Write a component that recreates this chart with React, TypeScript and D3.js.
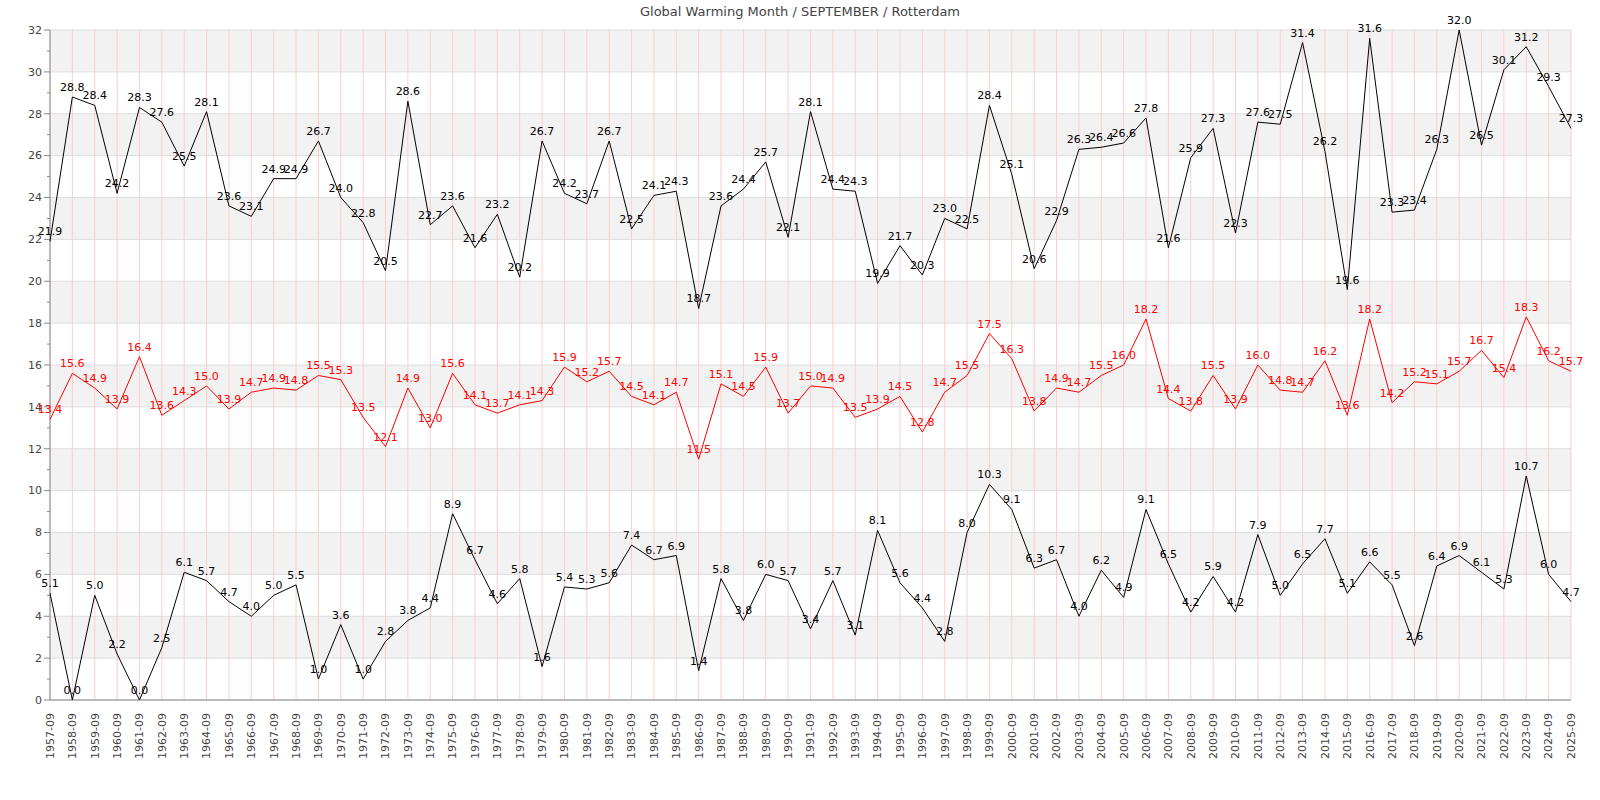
import React from "react";
import * as d3 from "d3";

const years: string[] = d3.range(1957, 2026).map((y) => `${y}-09`);

const maxTemps: number[] = [
  21.9, 28.8, 28.4, 24.2, 28.3, 27.6, 25.5, 28.1, 23.6, 23.1, 24.9, 24.9, 26.7, 24.0, 22.8, 20.5, 28.6, 22.7,
  23.6, 21.6, 23.2, 20.2, 26.7, 24.2, 23.7, 26.7, 22.5, 24.1, 24.3, 18.7, 23.6, 24.4, 25.7, 22.1, 28.1, 24.4,
  24.3, 19.9, 21.7, 20.3, 23.0, 22.5, 28.4, 25.1, 20.6, 22.9, 26.3, 26.4, 26.6, 27.8, 21.6, 25.9, 27.3, 22.3,
  27.6, 27.5, 31.4, 26.2, 19.6, 31.6, 23.3, 23.4, 26.3, 32.0, 26.5, 30.1, 31.2, 29.3, 27.3,
];

const meanTemps: number[] = [
  13.4, 15.6, 14.9, 13.9, 16.4, 13.6, 14.3, 15.0, 13.9, 14.7, 14.9, 14.8, 15.5, 15.3, 13.5, 12.1, 14.9, 13.0,
  15.6, 14.1, 13.7, 14.1, 14.3, 15.9, 15.2, 15.7, 14.5, 14.1, 14.7, 11.5, 15.1, 14.5, 15.9, 13.7, 15.0, 14.9,
  13.5, 13.9, 14.5, 12.8, 14.7, 15.5, 17.5, 16.3, 13.8, 14.9, 14.7, 15.5, 16.0, 18.2, 14.4, 13.8, 15.5, 13.9,
  16.0, 14.8, 14.7, 16.2, 13.6, 18.2, 14.2, 15.2, 15.1, 15.7, 16.7, 15.4, 18.3, 16.2, 15.7,
];

const minTemps: number[] = [
  5.1, 0.0, 5.0, 2.2, 0.0, 2.5, 6.1, 5.7, 4.7, 4.0, 5.0, 5.5, 1.0, 3.6, 1.0, 2.8, 3.8, 4.4,
  8.9, 6.7, 4.6, 5.8, 1.6, 5.4, 5.3, 5.6, 7.4, 6.7, 6.9, 1.4, 5.8, 3.8, 6.0, 5.7, 3.4, 5.7,
  3.1, 8.1, 5.6, 4.4, 2.8, 8.0, 10.3, 9.1, 6.3, 6.7, 4.0, 6.2, 4.9, 9.1, 6.5, 4.2, 5.9, 4.2,
  7.9, 5.0, 6.5, 7.7, 5.1, 6.6, 5.5, 2.6, 6.4, 6.9, 6.1, 5.3, 10.7, 6.0, 4.7,
];

const yTicks: number[] = d3.range(0, 33, 2);
const yMinorTicks: number[] = d3.range(1, 32, 2);

const title = "Global Warming Month / SEPTEMBER / Rotterdam";

const W = 1600;
const H = 800;
const left = 50;
const right = 1571;
const top = 30;
const bottom = 700;

export default function App() {
  const x = d3.scalePoint<string>().domain(years).range([left, right]);
  const y = d3.scaleLinear().domain([0, 32]).range([bottom, top]);
  const line = d3
    .line<number>()
    .x((_, i) => x(years[i]) as number)
    .y((d) => y(d));

  const series = [
    { data: maxTemps, color: "#000000" },
    { data: meanTemps, color: "#ff0000" },
    { data: minTemps, color: "#000000" },
  ];

  const font = "DejaVu Sans, sans-serif";

  return (
    <svg
      width={W}
      height={H}
      style={{ position: "absolute", left: 0, top: 0, background: "#fff" }}
      fontFamily={font}
    >
      <rect x={0} y={0} width={W} height={H} fill="#fff" />
      {/* alternating bands */}
      {yTicks.slice(0, -1).map((t) =>
        (t / 2) % 2 === 1 ? (
          <rect key={"b" + t} x={left} width={right - left} y={y(t + 2)} height={y(t) - y(t + 2)} fill="#f2f2f2" />
        ) : null
      )}
      {/* horizontal grid */}
      {yTicks.map((t) => (
        <line key={"h" + t} x1={left} x2={right} y1={y(t)} y2={y(t)} stroke="#dddddd" strokeWidth={1} />
      ))}
      {/* vertical grid */}
      {years.map((yr) => (
        <line key={"v" + yr} x1={x(yr)} x2={x(yr)} y1={top} y2={bottom} stroke="#ffcccc" strokeWidth={1} />
      ))}
      {/* axes */}
      <line x1={left} x2={left} y1={top} y2={bottom} stroke="#888" strokeWidth={1} />
      <line x1={left} x2={right} y1={bottom} y2={bottom} stroke="#888" strokeWidth={1} />
      {yTicks.map((t) => (
        <g key={"yt" + t}>
          <line x1={left - 6} x2={left} y1={y(t)} y2={y(t)} stroke="#888" />
          <text x={left - 8} y={y(t)} dy="0.35em" textAnchor="end" fontSize={11} fill="#444">
            {t}
          </text>
        </g>
      ))}
      {yMinorTicks.map((t) => (
        <line key={"ym" + t} x1={left - 3} x2={left} y1={y(t)} y2={y(t)} stroke="#888" />
      ))}
      {years.map((yr) => (
        <text
          key={"xl" + yr}
          transform={`translate(${x(yr)},${bottom + 13}) rotate(-90)`}
          textAnchor="end"
          dy="0.35em"
          fontSize={11}
          fill="#444"
        >
          {yr}
        </text>
      ))}
      {/* series */}
      {series.map((s, si) => (
        <g key={"s" + si}>
          <path d={line(s.data) || ""} fill="none" stroke={s.color} strokeWidth={1} />
          {s.data.map((v, i) => (
            <text
              key={"l" + i}
              x={x(years[i])}
              y={y(v) - 6}
              textAnchor="middle"
              fontSize={11}
              fill={s.color}
            >
              {v.toFixed(1)}
            </text>
          ))}
        </g>
      ))}
      <text x={W / 2} y={16} textAnchor="middle" fontSize={13} fill="#444">
        {title}
      </text>
    </svg>
  );
}
